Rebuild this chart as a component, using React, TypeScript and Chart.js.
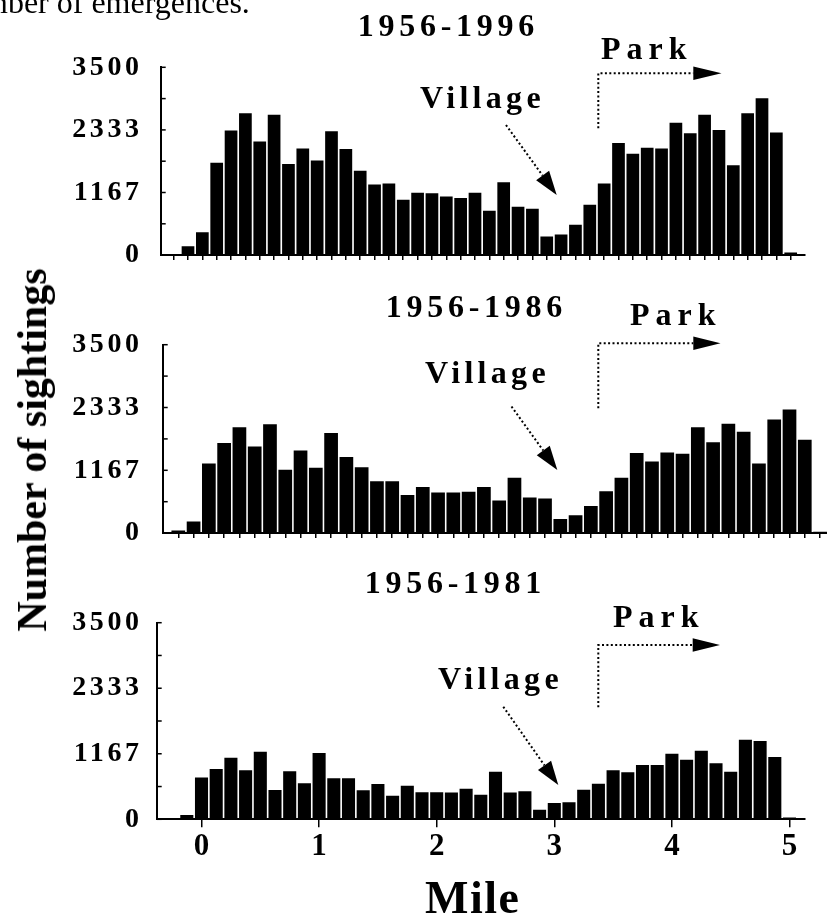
import React, { useEffect, useRef } from 'react';
import { Chart, registerables } from 'chart.js';

Chart.register(...registerables);

const FONT = "'Liberation Serif', 'Times New Roman', serif";

// Bin centres (miles) shared by the three histograms
const binMiles = [
  -0.25, -0.125, 0, 0.125, 0.25, 0.375, 0.5, 0.625, 0.75, 0.875,
  1, 1.125, 1.25, 1.375, 1.5, 1.625, 1.75, 1.875,
  2, 2.125, 2.25, 2.375, 2.5, 2.625, 2.75, 2.875,
  3, 3.125, 3.25, 3.375, 3.5, 3.625, 3.75, 3.875,
  4, 4.125, 4.25, 4.375, 4.5, 4.625, 4.75, 4.875, 5,
];

const sightings1996 = [
  165, 425, 1723, 2320, 2644, 2119, 2615, 1700, 1989, 1765,
  2308, 1977, 1570, 1316, 1334, 1033, 1163, 1151, 1092, 1062,
  1163, 826, 1357, 903, 862, 348, 384, 567, 938, 1334,
  2089, 1889, 2001, 1989, 2467, 2272, 2615, 2331, 1676, 2644,
  2921, 2284, 47,
];

const sightings1986 = [
  48, 214, 1295, 1676, 1967, 1610, 2020, 1177, 1533, 1212,
  1860, 1414, 1224, 963, 962, 707, 856, 755, 755, 767,
  856, 606, 1028, 660, 642, 261, 333, 505, 778, 1028,
  1486, 1331, 1497, 1474, 1967, 1688, 2032, 1884, 1295, 2110,
  2294, 1735, 24,
];

const sightings1981 = [
  12, 77, 742, 896, 1097, 872, 1204, 522, 854, 641,
  1181, 730, 730, 516, 629, 421, 599, 481, 481, 475,
  546, 439, 848, 475, 498, 172, 291, 303, 528, 635,
  872, 836, 967, 967, 1169, 1062, 1222, 997, 848, 1418,
  1394, 1109, 30,
];

const periodTitles = ['1956-1996', '1956-1986', '1956-1981'];
const yTickValues = [0, 583.33, 1166.67, 1750, 2333.33, 2916.67, 3500];
const yTickLabels = ['0', '', '1167', '', '2333', '', '3500'];
const mileTicks = [0, 1, 2, 3, 4, 5];
const leadingTick = [-0.375];

const TICK_LS = 3.6;

function drawText(ctx, text, x, y, size, ls, align, weight = 'bold') {
  ctx.save();
  ctx.font = `${weight} ${size}px ${FONT}`;
  ctx.letterSpacing = ls + 'px';
  ctx.textBaseline = 'alphabetic';
  ctx.textAlign = 'left';
  ctx.fillStyle = '#000';
  const w = ctx.measureText(text).width - ls;
  let sx = x;
  if (align === 'center') sx = x - w / 2;
  else if (align === 'right') sx = x - w;
  ctx.fillText(text, sx, y);
  ctx.restore();
}

function dottedPath(ctx, pts) {
  ctx.save();
  ctx.setLineDash([2, 2.4]);
  ctx.lineWidth = 2;
  ctx.strokeStyle = '#000';
  ctx.beginPath();
  ctx.moveTo(pts[0][0], pts[0][1]);
  for (let i = 1; i < pts.length; i++) ctx.lineTo(pts[i][0], pts[i][1]);
  ctx.stroke();
  ctx.restore();
}

function arrowHead(ctx, tipX, tipY, ux, uy, len, halfW) {
  const bx = tipX - ux * len;
  const by = tipY - uy * len;
  ctx.save();
  ctx.fillStyle = '#000';
  ctx.beginPath();
  ctx.moveTo(tipX, tipY);
  ctx.lineTo(bx - uy * halfW, by + ux * halfW);
  ctx.lineTo(bx + uy * halfW, by - ux * halfW);
  ctx.closePath();
  ctx.fill();
  ctx.restore();
}

const panels = [
  {
    title: periodTitles[0], data: sightings1996,
    top: 0, height: 290,
    area: { left: 160.7, top: 67.3, bottom: 265, right: 805 },
    xMin: -0.4878, xMax: 5.1246, barPct: 0.885,
    xTicks: [...leadingTick, ...binMiles], tickLen: 5, showMiles: false,
    titleX: 446, titleY: 36,
    park: { textX: 601, textY: 59, lineY: 73.3, vx: 598.3, vEndY: 128.3, headBase: 693.3, tip: 721.5 },
    village: { textX: 420, textY: 108.3, from: [506, 125], tip: [556.7, 195] },
    extraText: true, mile: false,
  },
  {
    title: periodTitles[1], data: sightings1986,
    top: 285, height: 285,
    area: { left: 162.7, top: 344.7, bottom: 541, right: 827 },
    xMin: -0.3776, xMax: 5.0568, barPct: 0.897,
    xTicks: binMiles, tickLen: 5, showMiles: false,
    titleX: 474, titleY: 316.7,
    park: { textX: 630, textY: 325, lineY: 343.3, vx: 598.3, vEndY: 408.3, headBase: 693.3, tip: 720.5 },
    village: { textX: 425, textY: 383.3, from: [511.5, 406.5], tip: [557.3, 470] },
    extraText: false, mile: false,
  },
  {
    title: periodTitles[2], data: sightings1981,
    top: 565, height: 355,
    area: { left: 156.7, top: 622.7, bottom: 819.3, right: 805 },
    xMin: -0.381, xMax: 5.1318, barPct: 0.89,
    xTicks: mileTicks, tickLen: 8, showMiles: true,
    titleX: 453, titleY: 593,
    park: { textX: 613, textY: 626.7, lineY: 645, vx: 598.3, vEndY: 707.3, headBase: 692.7, tip: 720 },
    village: { textX: 438, textY: 689.3, from: [503.3, 706.7], tip: [558.3, 785] },
    extraText: false, mile: true,
  },
];

function makeConfig(p) {
  const decor = {
    id: 'decor' + p.title,
    beforeDraw(chart) {
      chart.ctx.letterSpacing = TICK_LS + 'px';
    },
    afterDraw(chart) {
      const ctx = chart.ctx;
      const ys = chart.scales.y;
      const area = chart.chartArea;
      const off = p.top;
      ctx.save();
      ctx.strokeStyle = '#000';
      ctx.lineWidth = 1.5;
      yTickValues.forEach((v) => {
        const py = ys.getPixelForValue(v);
        ctx.beginPath();
        ctx.moveTo(area.left, py);
        ctx.lineTo(area.left + 5, py);
        ctx.stroke();
      });
      ctx.restore();

      drawText(ctx, p.title, p.titleX, p.titleY - off, 32, 4.7, 'center');

      // Park annotation
      const pk = p.park;
      drawText(ctx, 'Park', pk.textX, pk.textY - off, 32, 6, 'left');
      dottedPath(ctx, [[pk.vx, pk.vEndY - off], [pk.vx, pk.lineY - off], [pk.headBase, pk.lineY - off]]);
      arrowHead(ctx, pk.tip, pk.lineY - off, 1, 0, pk.tip - pk.headBase, 6.7);

      // Village annotation
      const vg = p.village;
      drawText(ctx, 'Village', vg.textX, vg.textY - off, 32, 4.3, 'left');
      const dx = vg.tip[0] - vg.from[0];
      const dy = vg.tip[1] - vg.from[1];
      const d = Math.hypot(dx, dy);
      const ux = dx / d, uy = dy / d;
      const headLen = 24;
      dottedPath(ctx, [[vg.from[0], vg.from[1] - off], [vg.tip[0] - ux * headLen, vg.tip[1] - off - uy * headLen]]);
      arrowHead(ctx, vg.tip[0], vg.tip[1] - off, ux, uy, headLen, 8);

      if (p.extraText) {
        drawText(ctx, 'number of emergences.', -49, 12.7, 32, 0, 'left', 'normal');
      }
      if (p.mile) {
        drawText(ctx, 'Mile', 472, 913 - off, 46, 1.5, 'center');
      }
    },
  };

  return {
    type: 'bar',
    data: {
      labels: binMiles,
      datasets: [{
        data: p.data,
        backgroundColor: '#000',
        borderWidth: 0,
        categoryPercentage: 1,
        barPercentage: p.barPct,
      }],
    },
    options: {
      animation: false,
      responsive: false,
      devicePixelRatio: 1,
      layout: { padding: { left: 0, top: p.area.top - p.top, right: 827 - p.area.right, bottom: 0 } },
      plugins: { legend: { display: false }, tooltip: { enabled: false }, title: { display: false } },
      scales: {
        x: {
          type: 'linear',
          min: p.xMin,
          max: p.xMax,
          bounds: 'data',
          offset: false,
          afterBuildTicks: (s) => { s.ticks = p.xTicks.map((v) => ({ value: v })); },
          afterFit: (s) => { s.height = p.top + p.height - p.area.bottom; },
          grid: { display: true, offset: false, drawOnChartArea: false, drawTicks: true, tickLength: p.tickLen, color: '#000', lineWidth: 1.5 },
          border: { display: true, color: '#000', width: 2 },
          ticks: {
            display: p.showMiles,
            autoSkip: false,
            maxRotation: 0,
            minRotation: 0,
            padding: 1,
            labelOffset: TICK_LS / 2,
            color: '#000',
            font: { family: FONT, size: 31, weight: 'bold' },
            callback: (v) => String(v),
          },
        },
        y: {
          type: 'linear',
          min: 0,
          max: 3500,
          bounds: 'data',
          afterBuildTicks: (s) => { s.ticks = yTickValues.map((v) => ({ value: v })); },
          afterFit: (s) => { s.width = p.area.left; },
          grid: { display: false, drawTicks: false },
          border: { display: true, color: '#000', width: 2 },
          ticks: {
            autoSkip: false,
            padding: p.area.left - 139 - TICK_LS,
            color: '#000',
            font: { family: FONT, size: 28, weight: 'bold' },
            callback: (v, i) => yTickLabels[i],
          },
        },
      },
    },
    plugins: [decor],
  };
}

function Panel({ p }) {
  const ref = useRef(null);
  useEffect(() => {
    const chart = new Chart(ref.current, makeConfig(p));
    return () => chart.destroy();
  }, []);
  return (
    <canvas
      ref={ref}
      width={827}
      height={p.height}
      style={{ position: 'absolute', left: 0, top: p.top, width: 827, height: p.height }}
    />
  );
}

export default function App() {
  return (
    <div style={{ position: 'absolute', left: 0, top: 0, width: 827, height: 920, overflow: 'hidden', background: '#fff' }}>
      {panels.map((p) => <Panel key={p.title} p={p} />)}
      <div
        style={{
          position: 'absolute', left: 31.7, top: 450,
          transform: 'translate(-50%, -50%) rotate(-90deg)',
          whiteSpace: 'nowrap', fontFamily: FONT, fontWeight: 'bold', fontSize: 42, lineHeight: 1, color: '#000',
        }}
      >
        Number of sightings
      </div>
    </div>
  );
}
